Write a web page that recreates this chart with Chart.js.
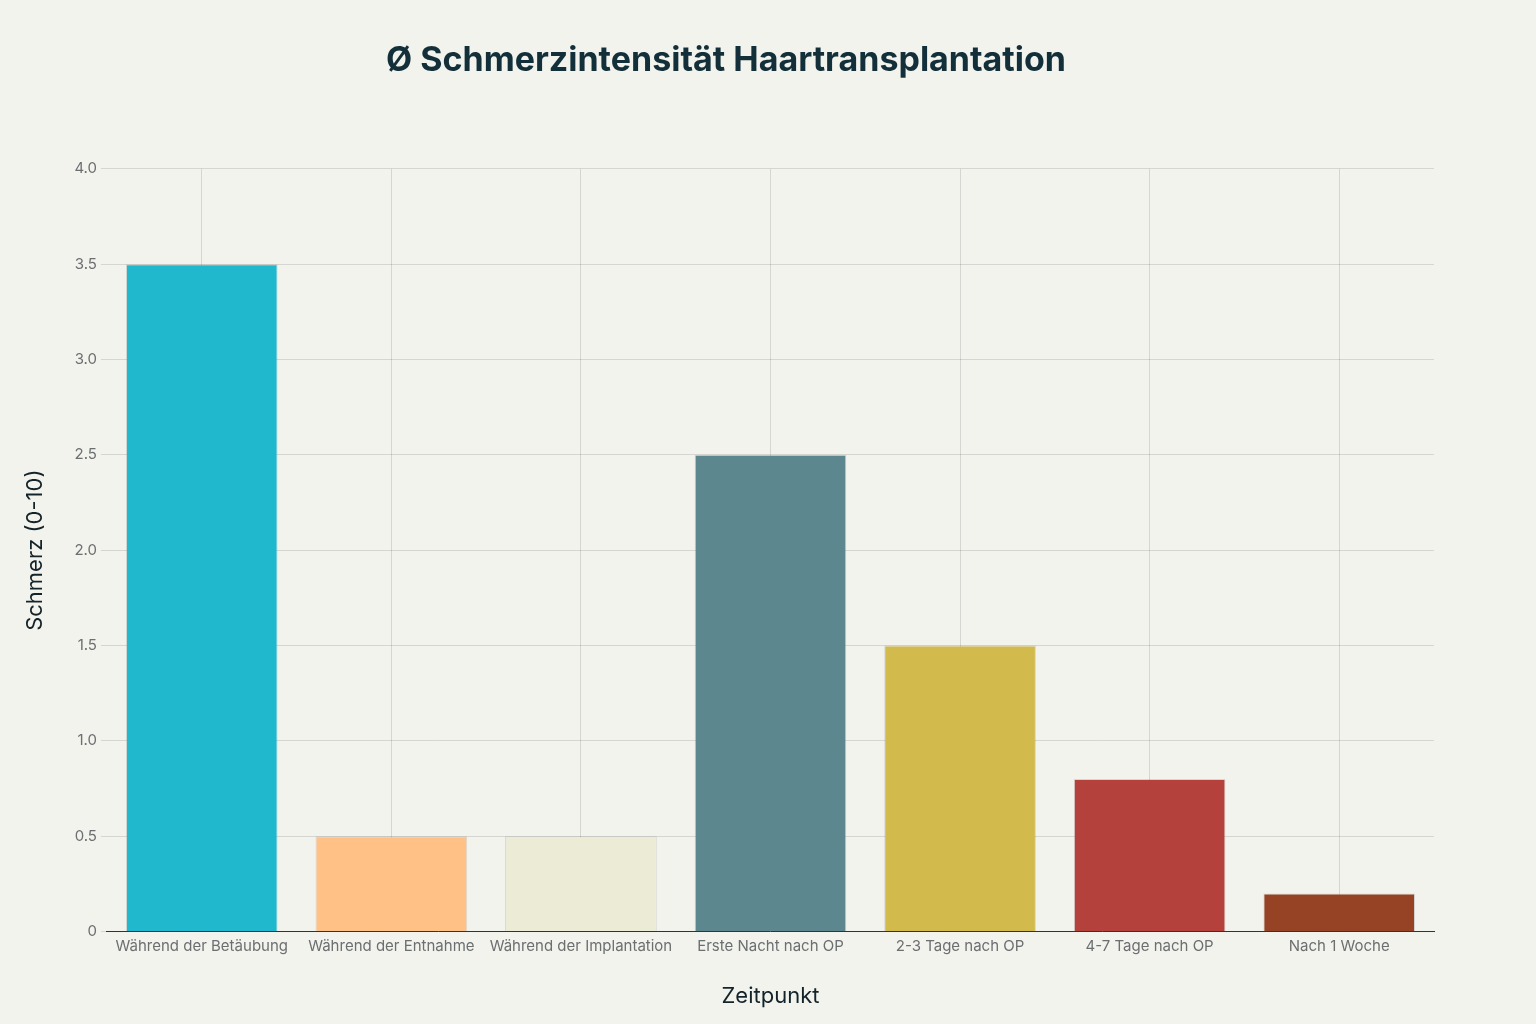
<!DOCTYPE html>
<html>
<head>
<meta charset="utf-8">
<script src="https://cdn.jsdelivr.net/npm/chart.js@4"></script>
<style>
  html, body { margin: 0; padding: 0; background: #f3f3ee; }
  #wrap { width: 1536px; height: 1024px; position: relative; }
</style>
</head>
<body>
<div id="wrap"><canvas id="chart" width="1536" height="1024"></canvas></div>
<script>
"use strict";

// ── Data ────────────────────────────────────────────────────────────────────
const CATEGORIES = [
  "Während der Betäubung",
  "Während der Entnahme",
  "Während der Implantation",
  "Erste Nacht nach OP",
  "2-3 Tage nach OP",
  "4-7 Tage nach OP",
  "Nach 1 Woche",
];
const PAIN = [3.5, 0.5, 0.5, 2.5, 1.5, 0.8, 0.2];
const BAR_COLORS = ["#1FB8CD", "#FFC185", "#ECEBD5", "#5D878F", "#D2BA4C", "#B4413C", "#964325"];
const Y_TICKS = [0, 0.5, 1, 1.5, 2, 2.5, 3, 3.5, 4];

const FONT = "Inter, 'Noto Sans', sans-serif";

// ── Chart ───────────────────────────────────────────────────────────────────
new Chart(document.getElementById("chart").getContext("2d"), {
  type: "bar",
  data: {
    labels: CATEGORIES,
    datasets: [{
      data: PAIN,
      backgroundColor: BAR_COLORS,
      borderColor: "rgba(0,0,0,0.12)",
      borderWidth: 1,
      categoryPercentage: 0.8,
      barPercentage: 1,
    }],
  },
  options: {
    responsive: false,
    animation: false,
    layout: { padding: { left: 18, right: 102, top: 30, bottom: 10 } },
    scales: {
      x: {
        title: { display: true, text: "Zeitpunkt", color: "#13232a", font: { family: FONT, size: 22 }, padding: { top: 22 } },
        ticks: { color: "#6b6f70", font: { family: FONT, size: 15 }, maxRotation: 0, autoSkip: false, padding: 6 },
        grid: { color: "rgba(0,0,0,0.12)", offset: false, drawTicks: false },
        border: { color: "#333", width: 1 },
      },
      y: {
        min: 0, max: 4,
        afterBuildTicks: ax => { ax.ticks = Y_TICKS.map(v => ({ value: v })); },
        title: { display: true, text: "Schmerz (0-10)", color: "#13232a", font: { family: FONT, size: 22 }, padding: { bottom: 22 } },
        ticks: { color: "#6b6f70", font: { family: FONT, size: 15 }, padding: 4 },
        grid: { color: "rgba(0,0,0,0.12)", tickLength: 6 },
        border: { display: false },
      },
    },
    plugins: {
      legend: { display: false },
      tooltip: { enabled: false },
      title: {
        display: true,
        text: "Ø Schmerzintensität Haartransplantation",
        color: "#13303a",
        font: { family: FONT, size: 34, weight: "bold" },
        padding: { top: 10, bottom: 88 },
      },
    },
  },
});
</script>
</body>
</html>
